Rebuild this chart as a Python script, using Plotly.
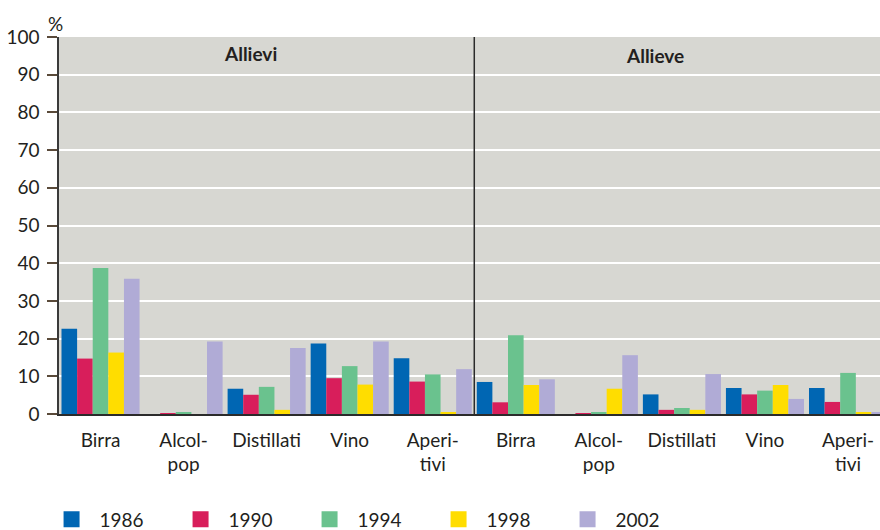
import plotly.graph_objects as go

categories = ["Birra", "Alcol-<br>pop", "Distillati", "Vino", "Aperi-<br>tivi",
              "Birra", "Alcol-<br>pop", "Distillati", "Vino", "Aperi-<br>tivi"]
panels = ["Allievi", "Allieve"]
years = ["1986", "1990", "1994", "1998", "2002"]
y_ticks = [0, 10, 20, 30, 40, 50, 60, 70, 80, 90, 100]

v1986 = [22.6, 0, 6.7, 18.7, 14.8, 8.5, 0, 5.2, 6.9, 6.9]
v1990 = [14.7, 0.1, 5.1, 9.5, 8.6, 3.1, 0.1, 1.1, 5.2, 3.2]
v1994 = [38.7, 0.3, 7.2, 12.7, 10.5, 20.9, 0.3, 1.6, 6.2, 10.9]
v1998 = [16.3, 0, 1.1, 7.8, 0.3, 7.7, 6.7, 1.1, 7.7, 0.3]
v2002 = [35.9, 19.2, 17.5, 19.2, 11.9, 9.2, 15.6, 10.6, 4.0, 0.3]

series = [v1986, v1990, v1994, v1998, v2002]
colors = ["#0066B3", "#D81E5B", "#6AC28E", "#FFDD00", "#B0ABD6"]

FONT = "Lato"
TXT = "#231F20"

xpos = list(range(len(categories)))

fig = go.Figure()
for name, vals, col in zip(years, series, colors):
    fig.add_trace(go.Bar(
        x=xpos, y=vals, name=name, showlegend=False,
        marker=dict(color=col, line=dict(width=0)),
    ))
# legend entries with large square swatches
for name, col in zip(years, colors):
    fig.add_trace(go.Scatter(
        x=[None], y=[None], mode="markers", name=name,
        marker=dict(symbol="square", size=22, color=col),
    ))

fig.update_layout(
    width=880, height=530,
    margin=dict(l=59, r=0, t=37, b=116),
    paper_bgcolor="white",
    plot_bgcolor="#D7D7D2",
    barmode="group",
    bargap=0.06,
    bargroupgap=0,
    font=dict(family=FONT, color=TXT, size=19),
    showlegend=True,
    legend=dict(
        orientation="h",
        xref="container", x=0.0495, xanchor="left",
        yref="container", y=0.02, yanchor="middle",
        entrywidth=68, entrywidthmode="pixels",
        font=dict(family=FONT, size=19, color=TXT),
        itemsizing="trace",
        itemwidth=46,
        traceorder="normal",
        bgcolor="rgba(0,0,0,0)",
    ),
    xaxis=dict(
        range=[-0.5, 9.385],
        tickmode="array", tickvals=xpos, ticktext=categories,
        showgrid=False, zeroline=False,
        showline=True, linecolor="#2b2b2b", linewidth=1.5,
        ticks="", ticklabelstandoff=8,
        tickfont=dict(family=FONT, size=19, color=TXT),
    ),
    yaxis=dict(
        range=[0, 100],
        tickmode="array", tickvals=y_ticks,
        showgrid=True, gridcolor="white", gridwidth=2,
        zeroline=False,
        showline=True, linecolor="#3a3a3a", linewidth=1.5,
        ticks="outside", ticklen=10, tickcolor="#5a4a3a", tickwidth=1.5,
        ticklabelstandoff=4,
        tickfont=dict(family=FONT, size=19, color=TXT),
    ),
)

# divider between panels
fig.add_shape(type="line", xref="x", yref="paper",
              x0=4.5, x1=4.5, y0=0, y1=1,
              line=dict(color="#2b2b2b", width=1.5))

fig.add_annotation(x=1.8, y=0.955, xref="x", yref="paper",
                   xanchor="center", yanchor="middle",
                   text="<b>" + panels[0] + "</b>", showarrow=False,
                   font=dict(family=FONT, size=19, color=TXT))
fig.add_annotation(x=6.675, y=0.95, xref="x", yref="paper",
                   xanchor="center", yanchor="middle",
                   text="<b>" + panels[1] + "</b>", showarrow=False,
                   font=dict(family=FONT, size=19, color=TXT))
fig.add_annotation(x=-0.004, y=1.035, xref="paper", yref="paper",
                   xanchor="center", yanchor="middle",
                   text="%", showarrow=False,
                   font=dict(family=FONT, size=19, color=TXT))

fig.write_html("out.html", config={"displayModeBar": False},
               post_script="document.body.style.margin='0';document.body.style.overflow='hidden';")
